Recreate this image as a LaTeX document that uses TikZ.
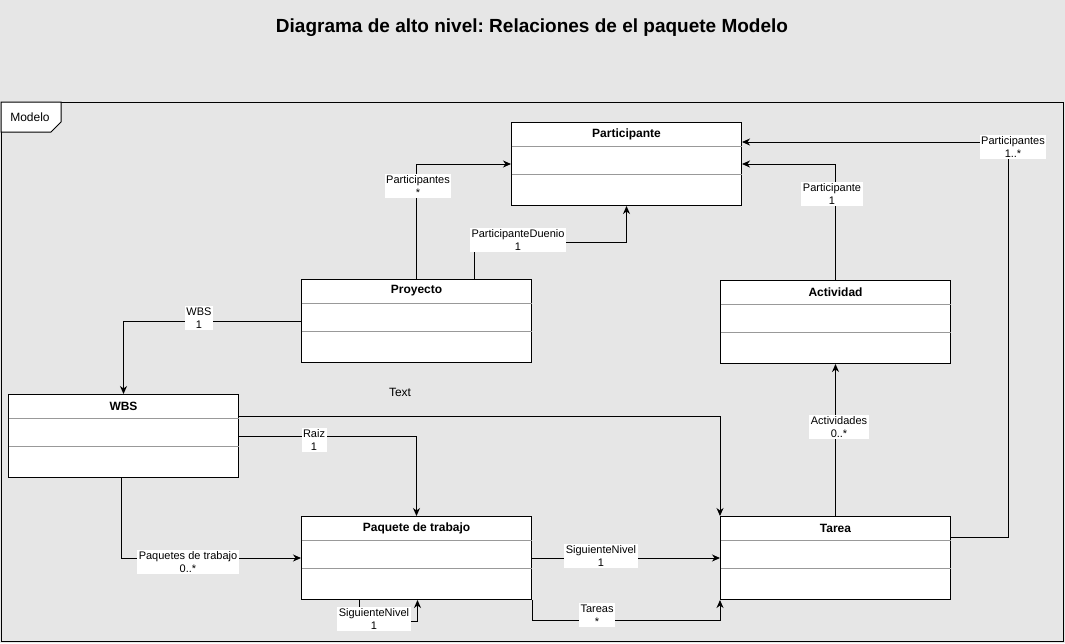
\documentclass[tikz,border=0pt]{standalone}
\usepackage{fontspec}
\setmainfont{Liberation Sans}
\usetikzlibrary{arrows.meta}
\frenchspacing
\definecolor{fondo}{HTML}{E6E6E6}
\definecolor{gris}{HTML}{999999}
\newcommand{\clase}[4]{%
  \node[clase] (#1) at (#2,#3) {};
  \node[titulo] (#1-t) at ([yshift=-12pt]#1.north) {#4};
  \draw[separador] ([xshift=0.5pt,yshift=-24pt]#1.north west) -- ([xshift=-0.5pt,yshift=-24pt]#1.north east);
  \draw[separador] ([xshift=0.5pt,yshift=-52pt]#1.north west) -- ([xshift=-0.5pt,yshift=-52pt]#1.north east);
}

\begin{document}
\begin{tikzpicture}[x=1pt,y=-1pt,
  clase/.style={draw,fill=white,line width=1pt,anchor=north west,minimum width=230pt,minimum height=83pt,inner sep=0pt},
  titulo/.style={font=\fontsize{12}{14}\selectfont\bfseries},
  separador/.style={draw=gris,line width=1pt},
  rol/.style={fill=white,align=center,inner sep=1.5pt,font=\fontsize{11}{13.5}\selectfont},
  asoc/.style={line width=1pt,-{Stealth[length=8pt,width=7pt,inset=2.5pt]}}]
  \fill[fondo] (0,0) rectangle (1065,643);
  \useasboundingbox (0,0) rectangle (1065,643);
  \node[font=\fontsize{19}{22}\selectfont\bfseries] (encabezado) at (532,28) {Diagrama de alto nivel: Relaciones de el paquete Modelo};
  % marco del paquete
  \draw[line width=1pt] (1,102) rectangle (1063,641);
  \draw[line width=1pt,fill=white] (1,102) -- (61,102) -- (61,122) -- (51,132) -- (1,132) -- cycle;
  \node[font=\fontsize{12}{14}\selectfont] (modelo) at (30,117) {Modelo};
  % clases
  \clase{participante}{511}{122}{Participante}
  \clase{proyecto}{301}{279}{Proyecto}
  \clase{actividad}{720}{280}{Actividad}
  \clase{wbs}{8}{394}{WBS}
  \clase{paquete}{301}{516}{Paquete de trabajo}
  \clase{tarea}{720}{516}{Tarea}
  % asociaciones
  \draw[asoc] (proyecto.north) |- (participante.west);
  \draw[asoc] ([xshift=58pt]proyecto.north) -- ++(0,-37) -| (participante.south);
  \draw[asoc] (proyecto.west) -| (wbs.north);
  \draw[asoc] (wbs.east) -| (paquete.north);
  \draw[asoc] ([yshift=20pt]wbs.east) -| (tarea.north west);
  \draw[asoc] (paquete.east) -- (tarea.west);
  \draw[asoc] (paquete.south east) -- ++(0,20) -| (tarea.south west);
  \draw[asoc] ([xshift=-57pt]paquete.south) -- ++(0,21) -| ([xshift=1pt]paquete.south);
  \draw[asoc] ([xshift=-2pt]wbs.south) |- (paquete.west);
  \draw[asoc] (tarea.north) -- (actividad.south);
  \draw[asoc] (actividad.north) |- (participante.east);
  \draw[asoc] ([yshift=-21pt]tarea.north east) -- ++(57,0) |- ([yshift=-20pt]participante.north east);
  % roles
  \node[rol] (r-participantes) at (418,186) {Participantes\\*};
  \node[rol] (r-duenio) at (518,240) {ParticipanteDuenio\\1};
  \node[rol] (r-wbs) at (199,318) {WBS\\1};
  \node[rol] (r-raiz) at (314,440) {Raiz\\1};
  \node[rol] (r-paquetes) at (188,562) {Paquetes de trabajo\\0..*};
  \node[rol] (r-nivel) at (374,619) {SiguienteNivel\\1};
  \node[rol] (r-nivel-tarea) at (601,556) {SiguienteNivel\\1};
  \node[rol] (r-tareas) at (597,615) {Tareas\\*};
  \node[rol] (r-actividades) at (839,427) {Actividades\\0..*};
  \node[rol] (r-participante) at (832,194) {Participante\\1};
  \node[rol] (r-participantes-tarea) at (1013,147) {Participantes\\1..*};
  \node[font=\fontsize{12}{14}\selectfont] (texto) at (400,392) {Text};
\end{tikzpicture}
\end{document}
